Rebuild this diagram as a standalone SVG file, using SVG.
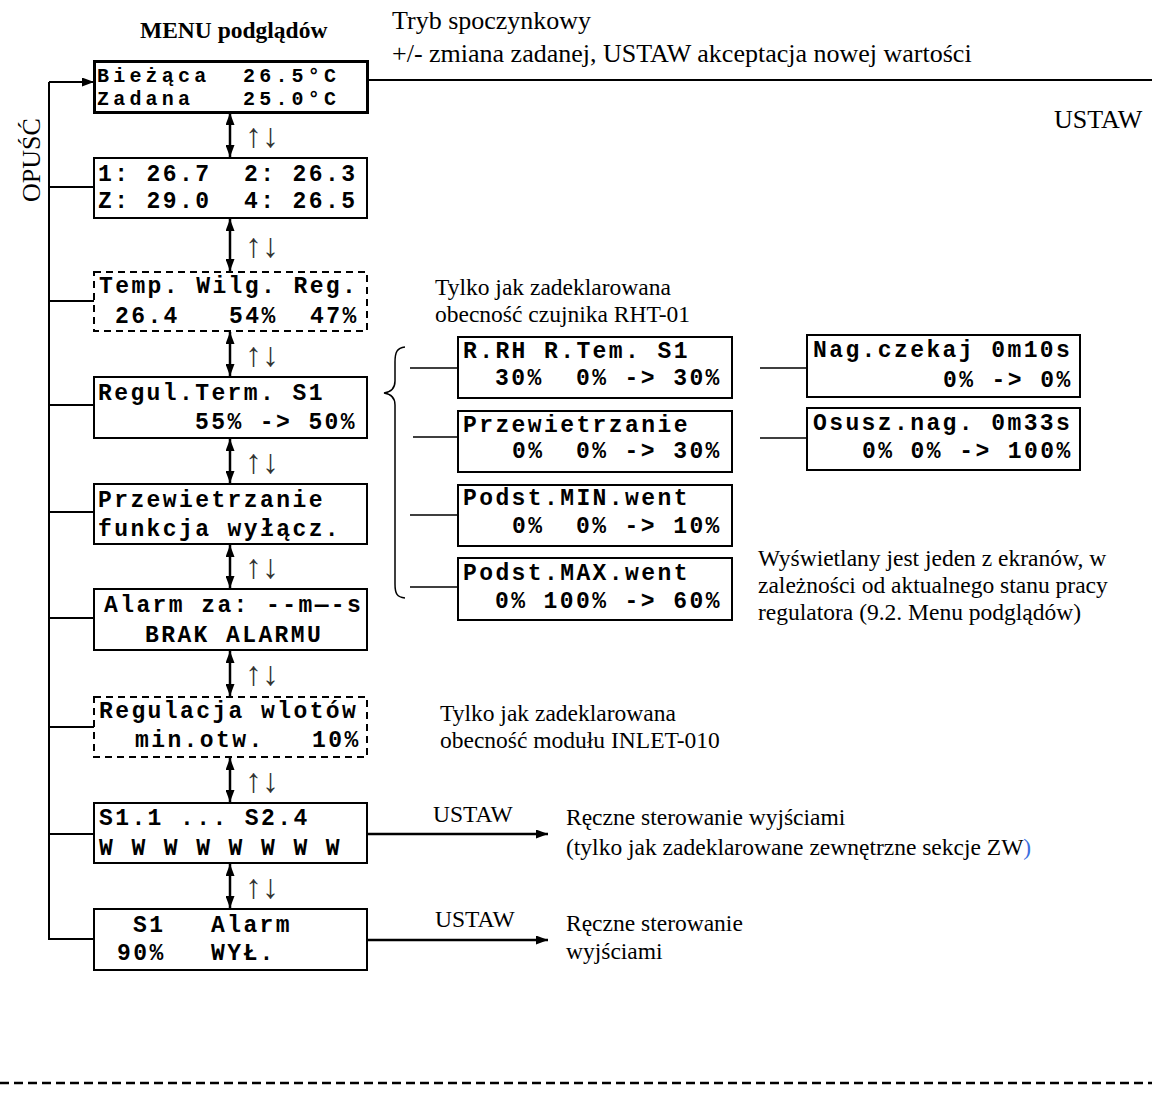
<svg xmlns="http://www.w3.org/2000/svg" width="1152" height="1102" viewBox="0 0 1152 1102">
<style>
.box{fill:#fff;stroke:#000;stroke-width:2}
.thick{stroke-width:3}
.dash{stroke-dasharray:7 5}
.lcd{font-family:"Liberation Mono","Courier New",monospace;font-weight:bold;font-size:23px;letter-spacing:2.4px;fill:#000}
.lcd1{font-family:"Liberation Mono","Courier New",monospace;font-weight:bold;font-size:20px;letter-spacing:4.2px;fill:#000}
.note{font-family:"Liberation Serif","Times New Roman",serif;font-size:23.5px;fill:#000}
.big{font-family:"Liberation Serif","Times New Roman",serif;font-size:26px;fill:#000}
.ud{font-family:"Liberation Serif","DejaVu Serif",serif;font-size:34px;fill:#333}
.conn{stroke:#000;stroke-width:2;fill:none}
.thin{stroke:#000;stroke-width:1.5;fill:none}
.arr{stroke:#000;stroke-width:2.5;fill:none}
</style>
<defs>
<marker id="ah" viewBox="0 0 12 9" refX="12" refY="4.5" markerWidth="12" markerHeight="9" markerUnits="userSpaceOnUse" orient="auto-start-reverse"><path d="M0,0 L12,4.5 L0,9 z" fill="#000"/></marker>
</defs>

<g id="connectors">
<path class="conn" d="M49 82 V940"/>
<path class="conn" d="M49 82 H94" marker-end="url(#ah)"/>
<path class="conn" d="M49 187 H94 M49 301 H94 M49 405 H94 M49 512 H94 M49 618 H94 M49 727 H94 M49 834 H94 M49 939 H94"/>
<path class="conn" d="M368 80 H1152"/>
<path class="arr" d="M230 113 V157" marker-start="url(#ah)" marker-end="url(#ah)"/>
<path class="arr" d="M230 219 V271" marker-start="url(#ah)" marker-end="url(#ah)"/>
<path class="arr" d="M230 332 V376" marker-start="url(#ah)" marker-end="url(#ah)"/>
<path class="arr" d="M230 439 V483" marker-start="url(#ah)" marker-end="url(#ah)"/>
<path class="arr" d="M230 545 V588" marker-start="url(#ah)" marker-end="url(#ah)"/>
<path class="arr" d="M230 651 V696" marker-start="url(#ah)" marker-end="url(#ah)"/>
<path class="arr" d="M230 758 V802" marker-start="url(#ah)" marker-end="url(#ah)"/>
<path class="arr" d="M230 864 V908" marker-start="url(#ah)" marker-end="url(#ah)"/>
<path class="arr" d="M368 834 H548" marker-end="url(#ah)"/>
<path class="arr" d="M368 940 H548" marker-end="url(#ah)"/>
<path class="thin" d="M405 347 C397 348 395 352 395 362 L395 381 C395 389 391 392 384 393 C391 394 395 397 395 405 L395 584 C395 594 397 597 405 598"/>
<path class="thin" d="M410 368 H458 M413 437 H458 M410 515 H458 M410 587 H458"/>
<path class="thin" d="M760 368 H807 M760 438 H807"/>
</g>

<g id="labels">
<text x="140" y="38" font-family="Liberation Serif,Times New Roman,serif" font-weight="bold" font-size="23.5">MENU podglądów</text>
<text class="big" x="392" y="29">Tryb spoczynkowy</text>
<text class="big" x="392" y="62">+/- zmiana zadanej, USTAW akceptacja nowej wartości</text>
<text class="big" x="1054" y="128">USTAW</text>
<text class="big" font-size="25" text-anchor="middle" transform="translate(40,160) rotate(-90)">OPUŚĆ</text>
<text class="ud" x="245" y="147">↑↓</text>
<text class="ud" x="245" y="257">↑↓</text>
<text class="ud" x="245" y="366">↑↓</text>
<text class="ud" x="245" y="473">↑↓</text>
<text class="ud" x="245" y="578">↑↓</text>
<text class="ud" x="245" y="685">↑↓</text>
<text class="ud" x="245" y="792">↑↓</text>
<text class="ud" x="245" y="898">↑↓</text>
<text class="note" x="435" y="295">Tylko jak zadeklarowana</text>
<text class="note" x="435" y="322">obecność czujnika RHT-01</text>
<text class="note" x="758" y="566">Wyświetlany jest jeden z ekranów, w</text>
<text class="note" x="758" y="593">zależności od aktualnego stanu pracy</text>
<text class="note" x="758" y="620">regulatora (9.2. Menu podglądów)</text>
<text class="note" x="440" y="721">Tylko jak zadeklarowana</text>
<text class="note" x="440" y="748">obecność modułu INLET-010</text>
<text class="note" x="433" y="822" font-size="25">USTAW</text>
<text class="note" x="566" y="825">Ręczne sterowanie wyjściami</text>
<text class="note" x="566" y="855">(tylko jak zadeklarowane zewnętrzne sekcje ZW<tspan fill="#3b6fe0">)</tspan></text>
<text class="note" x="435" y="927" font-size="25">USTAW</text>
<text class="note" x="566" y="931">Ręczne sterowanie</text>
<text class="note" x="566" y="959">wyjściami</text>
</g>

<g id="n1"><rect class="box thick" x="94.5" y="61.5" width="273" height="51"/>
<text class="lcd1" y="82"><tspan x="97">Bieżąca</tspan><tspan x="243">26.5°C</tspan></text>
<text class="lcd1" y="105"><tspan x="97">Zadana</tspan><tspan x="243">25.0°C</tspan></text></g>
<g id="n2"><rect class="box" x="94" y="158" width="273" height="60"/>
<text class="lcd" y="181"><tspan x="98">1: 26.7</tspan><tspan x="244">2: 26.3</tspan></text>
<text class="lcd" y="208"><tspan x="98">Z: 29.0</tspan><tspan x="244">4: 26.5</tspan></text></g>
<g id="n3"><rect class="box dash" x="94" y="272" width="273" height="59"/>
<text class="lcd" x="99" y="293">Temp. Wilg. Reg.</text>
<text class="lcd" y="323"><tspan x="115">26.4</tspan><tspan x="229">54%</tspan><tspan x="310">47%</tspan></text></g>
<g id="n4"><rect class="box" x="94" y="377" width="273" height="61"/>
<text class="lcd" x="98" y="400">Regul.Term. S1</text>
<text class="lcd" x="195" y="429">55% -&gt; 50%</text></g>
<g id="n5"><rect class="box" x="94" y="484" width="273" height="60"/>
<text class="lcd" x="98" y="507">Przewietrzanie</text>
<text class="lcd" x="98" y="536">funkcja wyłącz.</text></g>
<g id="n6"><rect class="box" x="94" y="589" width="273" height="61"/>
<text class="lcd" x="104" y="612">Alarm za: --m—-s</text>
<text class="lcd" x="145" y="642">BRAK ALARMU</text></g>
<g id="n7"><rect class="box dash" x="94" y="697" width="273" height="60"/>
<text class="lcd" x="99" y="718">Regulacja wlotów</text>
<text class="lcd" y="747"><tspan x="135">min.otw.</tspan><tspan x="312">10%</tspan></text></g>
<g id="n8"><rect class="box" x="94" y="803" width="273" height="60"/>
<text class="lcd" x="99" y="825">S1.1 ... S2.4</text>
<text class="lcd" x="99" y="855">W W W W W W W W</text></g>
<g id="n9"><rect class="box" x="94" y="909" width="273" height="61"/>
<text class="lcd" y="932"><tspan x="133">S1</tspan><tspan x="211">Alarm</tspan></text>
<text class="lcd" y="960"><tspan x="117">90%</tspan><tspan x="211">WYŁ.</tspan></text></g>

<g id="n10"><rect class="box" x="458" y="337" width="274" height="61"/>
<text class="lcd" x="463" y="358">R.RH R.Tem. S1</text>
<text class="lcd" y="385"><tspan x="495">30%</tspan><tspan x="576">0% -&gt; 30%</tspan></text></g>
<g id="n11"><rect class="box" x="458" y="411" width="274" height="61"/>
<text class="lcd" x="463" y="432">Przewietrzanie</text>
<text class="lcd" y="458"><tspan x="512">0%</tspan><tspan x="576">0% -&gt; 30%</tspan></text></g>
<g id="n12"><rect class="box" x="458" y="485" width="274" height="61"/>
<text class="lcd" x="463" y="505">Podst.MIN.went</text>
<text class="lcd" y="533"><tspan x="512">0%</tspan><tspan x="576">0% -&gt; 10%</tspan></text></g>
<g id="n13"><rect class="box" x="458" y="558" width="274" height="62"/>
<text class="lcd" x="463" y="580">Podst.MAX.went</text>
<text class="lcd" x="495" y="608">0% 100% -&gt; 60%</text></g>
<g id="n14"><rect class="box" x="807" y="335" width="273" height="62"/>
<text class="lcd" x="813" y="357">Nag.czekaj 0m10s</text>
<text class="lcd" x="943" y="387">0% -&gt; 0%</text></g>
<g id="n15"><rect class="box" x="807" y="408" width="273" height="62"/>
<text class="lcd" x="813" y="430">Osusz.nag. 0m33s</text>
<text class="lcd" x="862" y="458">0% 0% -&gt; 100%</text></g>

<path d="M0 1083 H1152" stroke="#000" stroke-width="2.5" stroke-dasharray="9 5"/>
</svg>
